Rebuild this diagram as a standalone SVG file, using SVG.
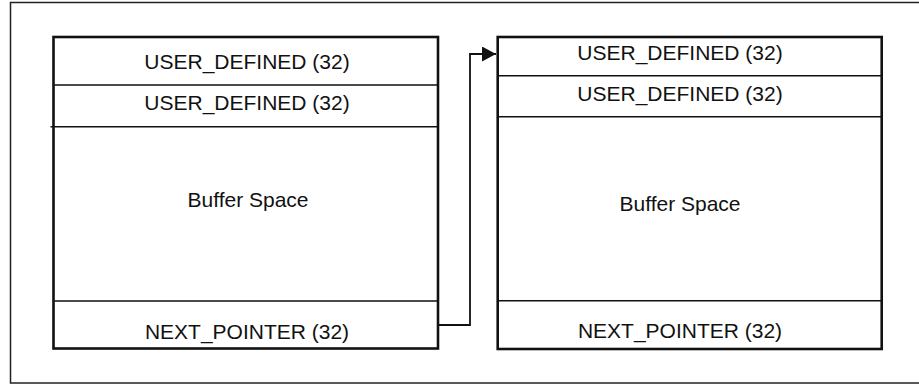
<svg xmlns="http://www.w3.org/2000/svg" width="919" height="385" viewBox="0 0 919 385">
<style>
.frame{fill:none;stroke:#222;stroke-width:1.5}
.box{fill:#fff;stroke:#111;stroke-width:2.6}
.row{stroke:#111;stroke-width:1.6;fill:none}
.lbl{font-family:"Liberation Sans",Arial,sans-serif;font-size:21px;fill:#111;text-anchor:middle}
.conn{fill:none;stroke:#111;stroke-width:1.8}
</style>
<defs>
<marker id="arr" markerUnits="userSpaceOnUse" markerWidth="16" markerHeight="16" refX="14" refY="7.5" orient="auto">
<path d="M0,0 L14,7.5 L0,15 Z" fill="#111"/>
</marker>
</defs>
<rect width="919" height="385" fill="#fff"/>
<path class="frame" d="M925,2.5 H10.5 V383 H925"/>
<g id="buffer1">
<rect class="box" x="53.5" y="37" width="384.5" height="311.5"/>
<line class="row" x1="53.5" y1="85" x2="438" y2="85"/>
<line class="row" x1="50.5" y1="126.7" x2="438" y2="126.7"/>
<line class="row" x1="53.5" y1="301" x2="438" y2="301"/>
<text class="lbl" x="247" y="68.5">USER_DEFINED (32)</text>
<text class="lbl" x="247" y="109.5">USER_DEFINED (32)</text>
<text class="lbl" x="248" y="206.5">Buffer Space</text>
<text class="lbl" x="247" y="338.5">NEXT_POINTER (32)</text>
</g>
<g id="buffer2">
<rect class="box" x="497.7" y="37" width="384" height="312"/>
<line class="row" x1="497.7" y1="75.7" x2="881.7" y2="75.7"/>
<line class="row" x1="497.7" y1="116.7" x2="881.7" y2="116.7"/>
<line class="row" x1="497.7" y1="300.7" x2="881.7" y2="300.7"/>
<text class="lbl" x="680" y="59.5">USER_DEFINED (32)</text>
<text class="lbl" x="680" y="100.5">USER_DEFINED (32)</text>
<text class="lbl" x="680" y="211">Buffer Space</text>
<text class="lbl" x="680" y="337.7">NEXT_POINTER (32)</text>
</g>
<g id="connectors">
<path class="conn" d="M438,325 H470 V54 H496" marker-end="url(#arr)"/>
</g>
</svg>
